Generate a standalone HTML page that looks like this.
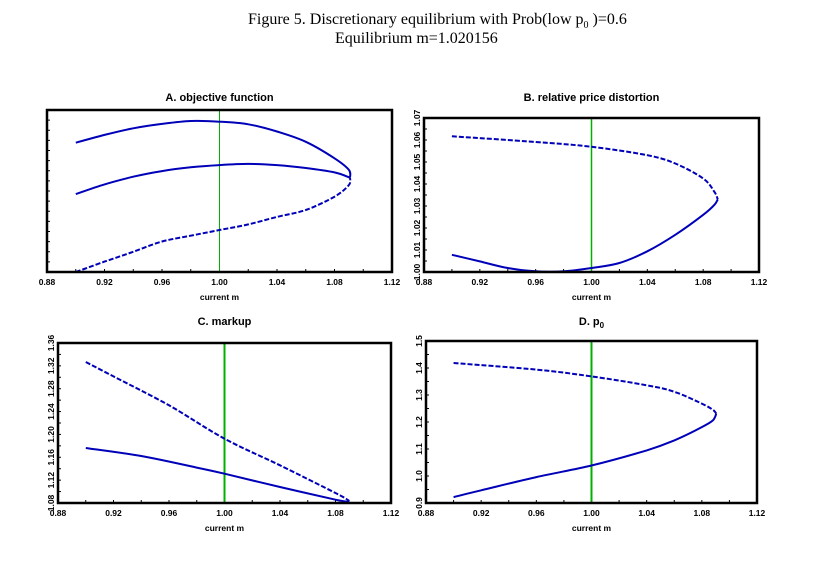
<!DOCTYPE html>
<html><head><meta charset="utf-8"><style>
body{margin:0;background:#fff;}
svg{display:block;}
.t{font-family:"Liberation Serif",serif;font-size:16px;fill:#000;}
.pt{font-family:"Liberation Sans",sans-serif;font-size:11px;font-weight:bold;fill:#000;}
.tk{font-family:"Liberation Sans",sans-serif;font-size:8.5px;font-weight:bold;fill:#000;}
</style></head><body>
<svg id="fig" width="814" height="562" viewBox="0 0 814 562">
<text class="t" x="248" y="24">Figure 5.  Discretionary equilibrium with Prob(low p<tspan font-size="10" dy="4">0</tspan><tspan dy="-4"> )=0.6</tspan></text>
<text class="t" x="335" y="43">Equilibrium m=1.020156</text>
</svg>
<script>
const xTicks=[0.88,0.92,0.96,1.00,1.04,1.08,1.12];
const xTickLabels=["0.88","0.92","0.96","1.00","1.04","1.08","1.12"];
const eqM=1.0;
const aUpperM=[0.90,0.92,0.94,0.96,0.98,1.00,1.02,1.04,1.06,1.08,1.09,1.0908];
const aUpperY=[7.98,8.46,8.87,9.14,9.32,9.28,9.12,8.67,8.04,7.02,6.3,5.82];
const aMidM=[0.90,0.92,0.94,0.96,0.98,1.00,1.02,1.04,1.06,1.08,1.0908];
const aMidY=[4.81,5.41,5.88,6.23,6.46,6.60,6.67,6.60,6.42,6.15,5.82];
const aLowM=[0.90,0.92,0.94,0.96,0.98,1.00,1.02,1.04,1.06,1.08,1.09,1.0908];
const aLowY=[0,0.64,1.25,1.88,2.24,2.59,2.94,3.40,3.83,4.65,5.37,5.82];
const bTicks=[1.00,1.01,1.02,1.03,1.04,1.05,1.06,1.07];
const bTickLabels=["1.00","1.01","1.02","1.03","1.04","1.05","1.06","1.07"];
const bDashM=[0.90,0.96,1.00,1.04,1.06,1.08,1.088,1.0905];
const bDashY=[1.0617,1.0591,1.0569,1.0531,1.0493,1.0425,1.0365,1.0330];
const bSolidM=[0.90,0.92,0.94,0.96,0.98,1.00,1.02,1.04,1.06,1.08,1.088,1.0905];
const bSolidY=[1.0078,1.0048,1.0018,1.0003,1.0003,1.0018,1.0041,1.0094,1.0169,1.026,1.0305,1.0330];
const cTicks=[1.08,1.12,1.16,1.20,1.24,1.28,1.32,1.36];
const cTickLabels=["1.08","1.12","1.16","1.20","1.24","1.28","1.32","1.36"];
const cDashM=[0.90,0.92,0.96,1.00,1.04,1.08,1.09];
const cDashY=[1.3267,1.3016,1.2509,1.1925,1.1459,1.0975,1.0835];
const cSolidM=[0.90,0.94,0.98,1.00,1.04,1.08,1.09];
const cSolidY=[1.1762,1.1622,1.142,1.1313,1.108,1.0858,1.082];
const dTicks=[0.9,1.0,1.1,1.2,1.3,1.4,1.5];
const dTickLabels=["0.9","1.0","1.1","1.2","1.3","1.4","1.5"];
const dDashM=[0.90,0.96,1.00,1.04,1.06,1.08,1.088,1.0905];
const dDashY=[1.4185,1.394,1.369,1.336,1.312,1.268,1.245,1.231];
const dSolidM=[0.90,0.92,0.96,1.00,1.04,1.06,1.08,1.088,1.0905];
const dSolidY=[0.922,0.947,0.996,1.039,1.095,1.132,1.181,1.206,1.231];

const NS="http://www.w3.org/2000/svg";
const svg=document.getElementById('fig');
function mk(tag,attrs,parent){const e=document.createElementNS(NS,tag);for(const k in attrs)e.setAttribute(k,attrs[k]);(parent||svg).appendChild(e);return e;}
function smooth(pts){
  let d='M'+pts[0][0].toFixed(1)+','+pts[0][1].toFixed(1);
  for(let i=0;i<pts.length-1;i++){
    const p0=pts[Math.max(0,i-1)],p1=pts[i],p2=pts[i+1],p3=pts[Math.min(pts.length-1,i+2)];
    const c1=[p1[0]+(p2[0]-p0[0])/6,p1[1]+(p2[1]-p0[1])/6];
    const c2=[p2[0]-(p3[0]-p1[0])/6,p2[1]-(p3[1]-p1[1])/6];
    d+=` C${c1[0].toFixed(1)},${c1[1].toFixed(1)} ${c2[0].toFixed(1)},${c2[1].toFixed(1)} ${p2[0].toFixed(1)},${p2[1].toFixed(1)}`;
  }
  return d;
}

function panel(p){
  const g=mk('g',{});
  
  
  const sx=v=>p.x0+(v-0.88)/0.24*(p.x1-p.x0);
  const sy=v=>p.y1-(v-p.ymin)/(p.ymax-p.ymin)*(p.y1-p.y0);
  const title=mk('text',{class:'pt',x:(p.x0+p.x1)/2,y:p.ty,'text-anchor':'middle'},g);
  title.textContent=p.title;
  
  
  if(p.sub){const ts=mk('tspan',{'font-size':'8',dy:'3'},title);ts.textContent=p.sub;}
  for(let v=0.88;v<=1.1201;v+=0.02){
    const X=sx(v);
    const tk=mk('line',{x1:X,x2:X,y1:p.y1,y2:p.y1-3,stroke:'#000','stroke-width':1},g);
    
    
  }
  xTicks.forEach((v,i)=>{
    const t=mk('text',{class:'tk',x:sx(v),y:p.y1+13,'text-anchor':'middle'},g);
    t.textContent=xTickLabels[i];
    
    
  });
  const xl=mk('text',{class:'tk',x:(p.x0+p.x1)/2,y:p.y1+28,'text-anchor':'middle'},g);
  xl.textContent='current m';
  
  
  if(p.yt){
    const step=p.yt[1]-p.yt[0];
    for(let v=p.ymin;v<=p.ymax+1e-9;v+=step/2){
      const Y=sy(v);
      const tk=mk('line',{x1:p.x0,x2:p.x0+3,y1:Y,y2:Y,stroke:'#000','stroke-width':1},g);
      
      
    }
    p.yt.forEach((v,i)=>{
      const Y=sy(v);
      const t=mk('text',{class:'tk',x:0,y:0,'text-anchor':'middle',transform:`translate(${p.x0-4},${Y}) rotate(-90)`},g);
      t.textContent=p.ytl[i];
      
      
    });
  } else {
    for(let v=0;v<=10;v+=0.625){
      const Y=sy(v);
      const tk=mk('line',{x1:p.x0,x2:p.x0+3,y1:Y,y2:Y,stroke:'#000','stroke-width':1},g);
      
      
    }
  }
  const eq=mk('line',{x1:sx(eqM),x2:sx(eqM),y1:p.y0,y2:p.y1,stroke:'#00b000','stroke-width':p.eqw},g);
  
  
  p.series.forEach(s=>{
    const pts=s.m.map((v,i)=>[sx(v),sy(s.y[i])]);
    const path=mk('path',{d:smooth(pts),fill:'none',stroke:'#0000b8','stroke-width':2,'stroke-dasharray':s.dash?'5,2':'none','stroke-linejoin':'round'},g);
    
    
  });
  const box=mk('rect',{x:p.x0,y:p.y0,width:p.x1-p.x0,height:p.y1-p.y0,fill:'none',stroke:'#000','stroke-width':2.5},g);
  
  
}

panel({name:'panel-a-objective-function',title:'A. objective function',x0:47,x1:392,y0:110,y1:272,ymin:0,ymax:10,ty:101,eqw:1,
  series:[{name:'upper-solid-series',m:aUpperM,y:aUpperY},{name:'middle-solid-series',m:aMidM,y:aMidY},{name:'lower-dashed-series',m:aLowM,y:aLowY,dash:true}]});
panel({name:'panel-b-relative-price-distortion',title:'B. relative price distortion',x0:424,x1:759,y0:118,y1:272,ymin:1.00,ymax:1.07,yt:bTicks,ytl:bTickLabels,ty:101,eqw:1.5,
  series:[{name:'dashed-series',m:bDashM,y:bDashY,dash:true},{name:'solid-series',m:bSolidM,y:bSolidY}]});
panel({name:'panel-c-markup',title:'C. markup',x0:58,x1:391,y0:343,y1:503,ymin:1.08,ymax:1.36,yt:cTicks,ytl:cTickLabels,ty:325,eqw:2,
  series:[{name:'dashed-series',m:cDashM,y:cDashY,dash:true},{name:'solid-series',m:cSolidM,y:cSolidY}]});
panel({name:'panel-d-p0',title:'D. p',sub:'0',x0:426,x1:757,y0:341,y1:503,ymin:0.9,ymax:1.5,yt:dTicks,ytl:dTickLabels,ty:325,eqw:2,
  series:[{name:'dashed-series',m:dDashM,y:dDashY,dash:true},{name:'solid-series',m:dSolidM,y:dSolidY}]});
</script>
</body></html>
